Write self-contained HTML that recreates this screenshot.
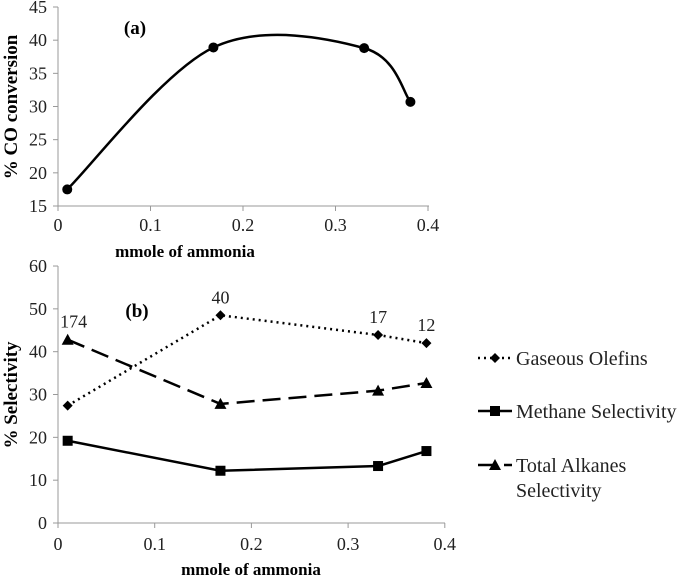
<!DOCTYPE html><html><head><meta charset="utf-8"><style>body{margin:0;background:#fff}svg{display:block;font-family:"Liberation Serif",serif}</style></head><body>
<svg id="s" width="685" height="577" viewBox="0 0 685 577"></svg>
<script>
const xA=[0.01,0.168,0.331,0.381];
const coA=[17.5,38.9,38.8,30.7];
const xB=[0.01,0.168,0.331,0.381];
const olefins=[27.4,48.5,43.9,42.0];
const methane=[19.2,12.2,13.3,16.8];
const alkanes=[42.8,27.8,30.9,32.7];
const ptLabels=["174","40","17","12"];
const ticksXA=[0,0.1,0.2,0.3,0.4];
const ticksYA=[15,20,25,30,35,40,45];
const ticksYB=[0,10,20,30,40,50,60];
const S=document.getElementById('s');const NS='http://www.w3.org/2000/svg';
function mk(t,a,p){const e=document.createElementNS(NS,t);for(const k in a)e.setAttribute(k,a[k]);(p||S).appendChild(e);return e;}
function txt(x,y,s,a,p){const e=mk('text',Object.assign({x:x,y:y},a||{}),p);e.textContent=s;return e;}
const xa=v=>58+v*925, ya=v=>206-(v-15)*6.633;
const xb=v=>58+v*967, yb=v=>523-v*4.283;
let g=mk('g',{});
mk('line',{x1:58,y1:7,x2:58,y2:206,stroke:'#999'},g);mk('line',{x1:58,y1:206,x2:429,y2:206,stroke:'#999'},g);
ticksYA.forEach(v=>{mk('line',{x1:53,x2:58,y1:ya(v),y2:ya(v),stroke:'#999'},g);txt(47,ya(v)+6,v,{'text-anchor':'end','font-size':18,fill:'#222'},g);});
ticksXA.forEach(v=>{mk('line',{x1:xa(v),x2:xa(v),y1:206,y2:211,stroke:'#999'},g);txt(xa(v),231,v,{'text-anchor':'middle','font-size':18,fill:'#222'},g);});
let t=txt(185,257,'mmole of ammonia',{'text-anchor':'middle','font-size':17,'font-weight':'bold'});
t=txt(0,0,'% CO conversion',{'text-anchor':'middle','font-size':19,'font-weight':'bold',transform:'translate(17,107) rotate(-90)'});
t=txt(135,34,'(a)',{'text-anchor':'middle','font-size':19,'font-weight':'bold'});
const P=xA.map((x,i)=>[xa(x),ya(coA[i])]);let d='M'+P[0];
for(let i=0;i<P.length-1;i++){const p0=P[i-1]||P[i],p1=P[i],p2=P[i+1],p3=P[i+2]||P[i+1];const k=1/6;
d+=' C'+(p1[0]+(p2[0]-p0[0])*k)+','+(p1[1]+(p2[1]-p0[1])*k)+' '+(p2[0]-(p3[0]-p1[0])*k)+','+(p2[1]-(p3[1]-p1[1])*k)+' '+p2[0]+','+p2[1];}
let c=mk('path',{d:d,fill:'none',stroke:'#000','stroke-width':2.5});
P.forEach(p=>{const m=mk('circle',{cx:p[0],cy:p[1],r:5,fill:'#000'});});
g=mk('g',{});
mk('line',{x1:58,y1:266,x2:58,y2:523,stroke:'#999'},g);mk('line',{x1:58,y1:523,x2:445,y2:523,stroke:'#999'},g);
ticksYB.forEach(v=>{mk('line',{x1:53,x2:58,y1:yb(v),y2:yb(v),stroke:'#999'},g);txt(47,yb(v)+6,v,{'text-anchor':'end','font-size':18,fill:'#222'},g);});
ticksXA.forEach(v=>{mk('line',{x1:xb(v),x2:xb(v),y1:523,y2:528,stroke:'#999'},g);txt(xb(v),550,v,{'text-anchor':'middle','font-size':18,fill:'#222'},g);});
t=txt(251,575,'mmole of ammonia',{'text-anchor':'middle','font-size':17,'font-weight':'bold'});
t=txt(0,0,'% Selectivity',{'text-anchor':'middle','font-size':19,'font-weight':'bold',transform:'translate(17,395) rotate(-90)'});
t=txt(137,317,'(b)',{'text-anchor':'middle','font-size':19,'font-weight':'bold'});
function marker(type,x,y){let m;
 if(type==='d')m=mk('polygon',{points:`${x},${y-5} ${x+5},${y} ${x},${y+5} ${x-5},${y}`,fill:'#000'});
 else if(type==='s')m=mk('rect',{x:x-5,y:y-5,width:10,height:10,fill:'#000'});
 else m=mk('polygon',{points:`${x},${y-6} ${x+6},${y+5} ${x-6},${y+5}`,fill:'#000'});
 return m;}
function series(vals,name,dash,type){const pts=xB.map((x,i)=>xb(x)+','+yb(vals[i])).join(' ');
 const l=mk('polyline',{points:pts,fill:'none',stroke:'#000','stroke-width':2.5,'stroke-dasharray':dash});
 xB.forEach((x,i)=>{const m=marker(type,xb(x),yb(vals[i]));});}
series(olefins,'gaseous-olefins','2 4','d');
series(methane,'methane-selectivity','none','s');
series(alkanes,'total-alkanes','18 8','t');
xB.forEach((x,i)=>{const e=txt(xb(x)+(i===0?6:0),yb(Math.max(olefins[i],alkanes[i]))-12,ptLabels[i],{'text-anchor':'middle','font-size':18,fill:'#222'});});
const leg=[['Gaseous Olefins','2 4','d',358],['Methane Selectivity','none','s',411],['Total Alkanes','18 8','t',465]];
leg.forEach(L=>{const gg=mk('g',{});
 mk('line',{x1:478,x2:512,y1:L[3],y2:L[3],stroke:'#000','stroke-width':2.5,'stroke-dasharray':L[1]},gg);
 const m=marker(L[2],495,L[3]);gg.appendChild(m);
 txt(516,L[3]+7,L[0],{'font-size':20,fill:'#222'},gg);});
txt(516,497,'Selectivity',{'font-size':20,fill:'#222'});
</script></body></html>
